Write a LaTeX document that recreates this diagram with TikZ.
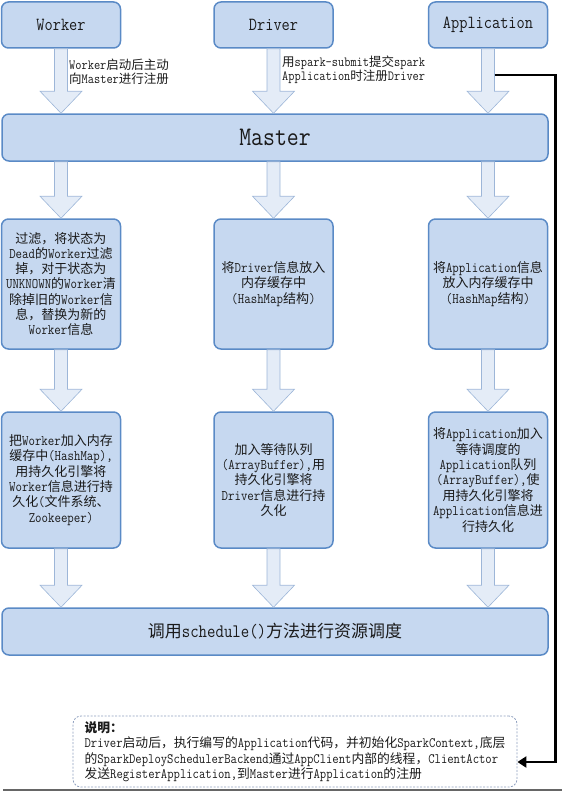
\documentclass[tikz,border=0pt]{standalone}
\usepackage{fontspec}
\setmainfont{Latin Modern Mono}[Scale=1.12,FakeStretch=0.86]
\newfontfamily\latinfont{Latin Modern Mono}[Scale=1.12,FakeStretch=0.86]
\newfontfamily\cjkfont{Noto Sans CJK SC}
\usetikzlibrary{arrows.meta,calc}
\XeTeXinterchartokenstate=1
\newcount\cjkc
\def\setcjkrange#1#2{\cjkc=#1 \loop\ifnum\cjkc<#2 \XeTeXcharclass\cjkc=7 \advance\cjkc by 1 \repeat}
\setcjkrange{"4E00}{"A000}
\setcjkrange{"3000}{"3040}
\setcjkrange{"FF00}{"FFF0}
\XeTeXinterchartoks 0 7 = {\cjkfont}
\XeTeXinterchartoks 4095 7 = {\cjkfont}
\XeTeXinterchartoks 7 0 = {\latinfont}
\XeTeXinterchartoks 7 4095 = {\latinfont}
\definecolor{boxfill}{HTML}{C6D8F0}
\definecolor{boxline}{HTML}{5A8AC6}
\definecolor{arrowfill}{HTML}{E4ECF7}
\definecolor{arrowline}{HTML}{9DB6D8}
\definecolor{noteline}{HTML}{8E9FBE}
\definecolor{txt}{HTML}{1A1A1A}
\tikzset{
  blue box/.style={draw=boxline,fill=boxfill,line width=1.5pt,rounded corners=7pt,
    inner sep=2pt,align=center,text=txt},
  top box/.style={blue box,minimum width=119pt,minimum height=46pt,font=\fontsize{16.5}{18}\selectfont},
  wide box/.style={blue box,minimum width=546pt,minimum height=47pt},
  row one/.style={blue box,minimum width=119pt,minimum height=130pt,font=\fontsize{13}{15.3}\selectfont},
  row two/.style={blue box,minimum width=119pt,minimum height=136pt,font=\fontsize{13}{15.4}\selectfont},
  lbl/.style={anchor=west,align=left,inner sep=0pt,text=txt,font=\fontsize{12.5}{14.5}\selectfont},
  barrow/.style={fill=arrowfill,draw=arrowline,line width=0.6pt},
  notebox/.style={draw=noteline,line width=0.8pt,dash pattern=on 2pt off 1.5pt,rounded corners=8pt,
    minimum width=444pt,minimum height=71pt,align=left,text=txt,inner sep=3pt,
    font=\fontsize{12.8}{15.5}\selectfont},
  conn/.style={line width=2.8pt,black,-{Triangle[length=9pt,width=11pt]}}
}
\newcommand\barrow[2]{%
  \path[barrow] let \p1=(#1), \p2=(#2) in
  (\x1-6.5pt,\y1) -- (\x1+6.5pt,\y1) -- (\x1+6.5pt,\y2+22pt) -- (\x1+21pt,\y2+22pt)
  -- (\x1,\y2) -- (\x1-21pt,\y2+22pt) -- (\x1-6.5pt,\y2+22pt) -- cycle;}
\begin{document}
\begin{tikzpicture}[x=1pt,y=-1pt]
\useasboundingbox (0,0) rectangle (562,792);
% top row
\node[top box] (worker) at (61,25) {Worker};
\node[top box] (driver) at (273.5,25) {Driver};
\node[top box] (app) at (488,25) {Application};
% master
\node[wide box,font=\fontsize{24}{26}\selectfont] (master) at (275,137.5) {Master};
% row one
\node[row one] (w1) at (61,284) {过滤，将状态为\\Dead的Worker过滤\\掉，对于状态为\\UNKNOWN的Worker清\\除掉旧的Worker信\\息，替换为新的\\Worker信息};
\node[row one] (d1) at (273.5,284) {将Driver信息放入\\内存缓存中\\(HashMap结构)};
\node[row one] (a1) at (488,284) {将Application信息\\放入内存缓存中\\(HashMap结构)};
% row two
\node[row two] (w2) at (61,480) {把Worker加入内存\\缓存中(HashMap),\\用持久化引擎将\\Worker信息进行持\\久化(文件系统、\\Zookeeper)};
\node[row two] (d2) at (273.5,480) {加入等待队列\\(ArrayBuffer),用\\持久化引擎将\\Driver信息进行持\\久化};
\node[row two] (a2) at (488,480) {将Application加入\\等待调度的\\Application队列\\(ArrayBuffer),使\\用持久化引擎将\\Application信息进\\行持久化};
% schedule
\node[wide box,font=\fontsize{17}{19}\selectfont] (sched) at (275,631.5) {调用schedule()方法进行资源调度};
% note
\node[notebox] (note) at (295,751.5) {\textbf{说明：}\\Driver启动后，执行编写的Application代码，并初始化SparkContext,底层\\的SparkDeploySchedulerBackend通过AppClient内部的线程，ClientActor\\发送RegisterApplication,到Master进行Application的注册};
% block arrows
\barrow{worker.south}{master.north -| worker.south}
\barrow{driver.south}{master.north -| driver.south}
\barrow{app.south}{master.north -| app.south}
\barrow{master.south -| w1.north}{w1.north}
\barrow{master.south -| d1.north}{d1.north}
\barrow{master.south -| a1.north}{a1.north}
\barrow{w1.south}{w2.north}
\barrow{d1.south}{d2.north}
\barrow{a1.south}{a2.north}
\barrow{w2.south}{sched.north -| w2.south}
\barrow{d2.south}{sched.north -| d2.south}
\barrow{a2.south}{sched.north -| a2.south}
% arrow labels
\node[lbl] (wl) at (69,72) {Worker启动后主动\\向Master进行注册};
\node[lbl] (dl) at (282,69.5) {用spark-submit提交spark\\Application时注册Driver};
% connector
\coordinate (tap) at (494.5,75);
\coordinate (bend) at (555.5,75);
\draw[conn] (tap) -- (bend) |- ([yshift=-10.5pt]note.east);
% bottom shadow
\coordinate (sh1) at (3,789.5);
\coordinate (sh2) at (562,789.5);
\draw[line width=2pt,black!60] (sh1) -- (sh2);
\end{tikzpicture}
\end{document}
